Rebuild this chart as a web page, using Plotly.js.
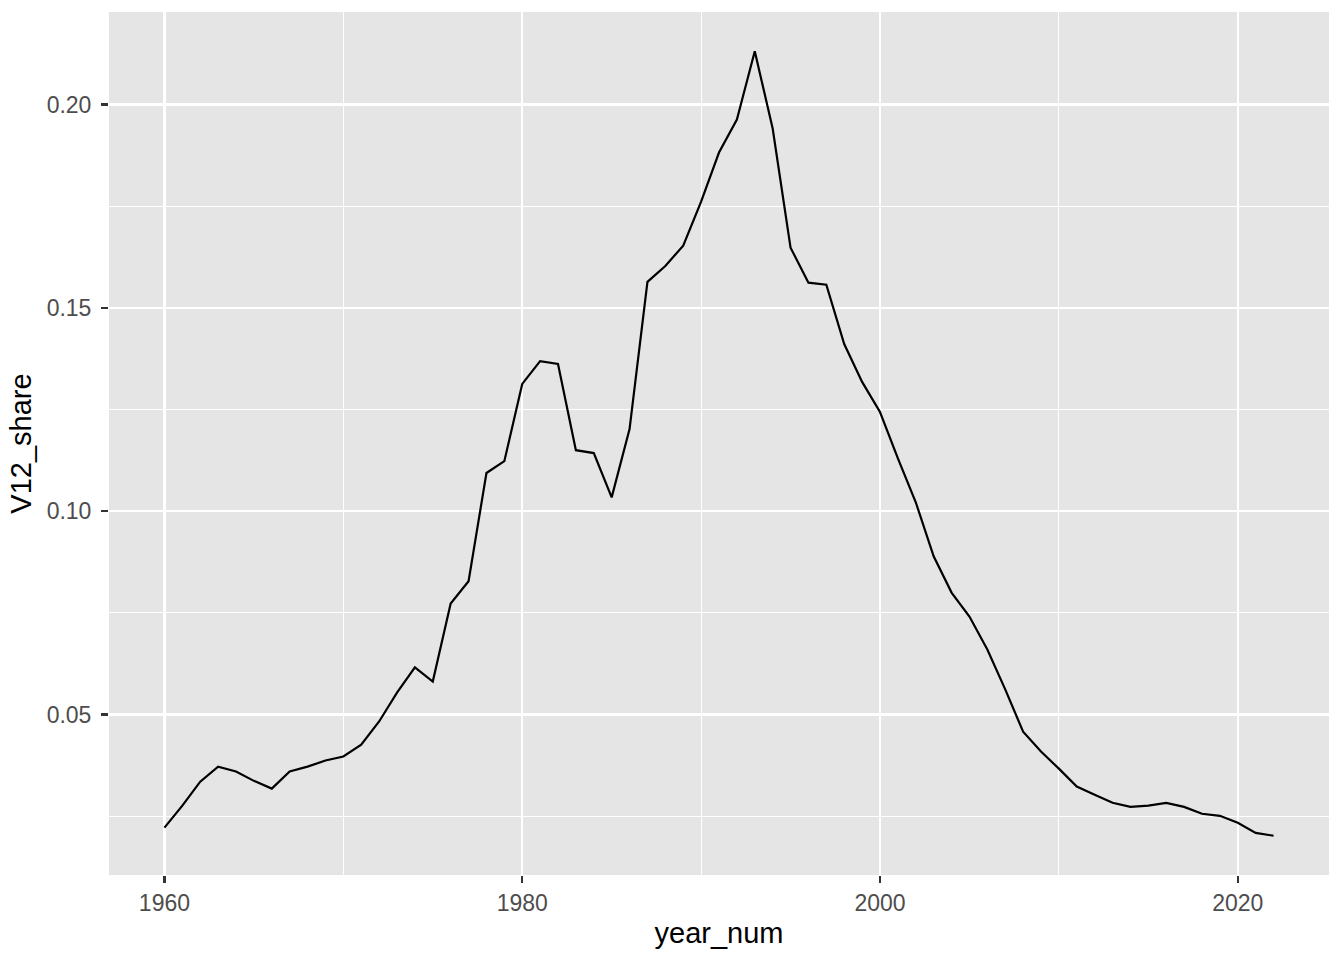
<!DOCTYPE html>
<html>
<head>
<meta charset="utf-8">
<script src="https://cdn.plot.ly/plotly-3.0.1.min.js"></script>
<style>html,body{margin:0;padding:0;background:#fff;}#chart{width:1344px;height:960px;}</style>
</head>
<body>
<div id="chart"></div>
<script>
const years = [];
for (let y = 1960; y <= 2022; y++) years.push(y);
const v12Share = [
  0.0222, 0.0276, 0.0335, 0.0372, 0.0360, 0.0337, 0.0318, 0.0360, 0.0372, 0.0387,
  0.0397, 0.0426, 0.0483, 0.0554, 0.0616, 0.0581, 0.0773, 0.0828, 0.1094, 0.1123,
  0.1313, 0.1369, 0.1362, 0.1150, 0.1143, 0.1034, 0.1202, 0.1564, 0.1603, 0.1653,
  0.1761, 0.1882, 0.1963, 0.2131, 0.1941, 0.1648, 0.1562, 0.1557, 0.1411, 0.1318,
  0.1244, 0.1130, 0.1022, 0.0889, 0.0800, 0.0741, 0.0660, 0.0562, 0.0458, 0.0409,
  0.0367, 0.0323, 0.0303, 0.0283, 0.0273, 0.0276, 0.0283, 0.0273, 0.0256, 0.0251,
  0.0234, 0.0209, 0.0202
];
const xTicks = [1960, 1980, 2000, 2020];
const yTicks = [0.05, 0.10, 0.15, 0.20];

const trace = {
  x: years, y: v12Share, type: 'scatter', mode: 'lines',
  line: {color: '#000000', width: 2.2}, hoverinfo: 'x+y'
};
const tickFont = {family: 'Liberation Sans, Arial, sans-serif', size: 23, color: '#4D4D4D'};
const titleFont = {family: 'Liberation Sans, Arial, sans-serif', size: 29, color: '#000000'};
const layout = {
  width: 1344, height: 960,
  margin: {l: 109, r: 15, t: 12, b: 85},
  paper_bgcolor: '#FFFFFF', plot_bgcolor: '#E5E5E5',
  showlegend: false,
  xaxis: {
    range: [1956.9, 2025.1], tickvals: xTicks, ticktext: xTicks.map(String),
    showgrid: true, gridcolor: '#FFFFFF', gridwidth: 2.2,
    minor: {tickvals: [1970, 1990, 2010], showgrid: true, gridcolor: '#FFFFFF', gridwidth: 1.1, ticks: ''},
    zeroline: false, showline: false,
    ticks: 'outside', ticklen: 7, tickwidth: 2.2, tickcolor: '#333333',
    tickfont: tickFont,
    title: {text: 'year_num', font: titleFont, standoff: 8}
  },
  yaxis: {
    range: [0.01055, 0.22275], tickvals: yTicks, ticktext: yTicks.map(v => v.toFixed(2)),
    showgrid: true, gridcolor: '#FFFFFF', gridwidth: 2.2,
    minor: {tickvals: [0.025, 0.075, 0.125, 0.175], showgrid: true, gridcolor: '#FFFFFF', gridwidth: 1.1, ticks: ''},
    zeroline: false, showline: false,
    ticks: 'outside', ticklen: 7, tickwidth: 2.2, tickcolor: '#333333',
    ticklabelstandoff: 5,
    tickfont: tickFont,
    title: {text: 'V12_share', font: titleFont, standoff: 6}
  }
};
Plotly.newPlot('chart', [trace], layout, {displayModeBar: false, staticPlot: true});
</script>
</body>
</html>
